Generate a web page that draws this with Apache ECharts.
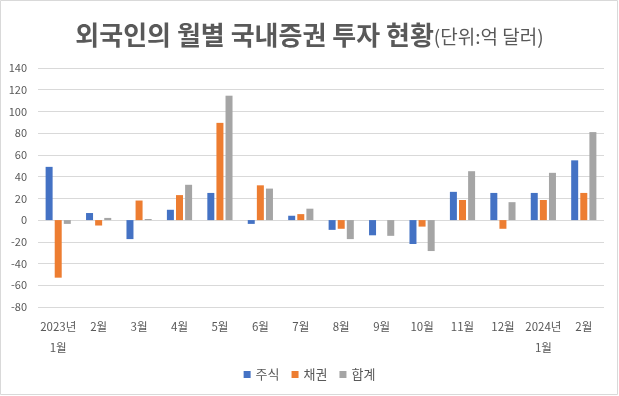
<!DOCTYPE html>
<html><head><meta charset="utf-8">
<script src="https://cdn.jsdelivr.net/npm/echarts@6/dist/echarts.min.js"></script>
<style>html,body{margin:0;padding:0;background:#fff}#c{width:619px;height:396px}</style>
</head><body><div id="c"></div>
<script>
const categories = ['2023년\n1월','2월','3월','4월','5월','6월','7월','8월','9월','10월','11월','12월','2024년\n1월','2월'];
const stocks = [49, 6.5, -17.5, 9.5, 25, -3.5, 4, -9, -14, -22, 26, 25, 25, 55];
const bonds = [-53, -5, 18, 23, 89.5, 32, 5.5, -8, 0, -6, 18.5, -8, 18.5, 25];
const totals = [-3.5, 2, 1, 32.5, 114.5, 29, 10.5, -17.5, -14.5, -28.5, 45, 16.5, 43.5, 81];
const yTicks = {min: -80, max: 140, interval: 20};

const font = '"Noto Sans CJK KR", "Noto Sans", sans-serif';
const chart = echarts.init(document.getElementById('c'), null, {renderer: 'canvas'});
const mk = (name, data, color) => ({
  name, type: 'bar', data, barWidth: 7, barGap: '30%',
  itemStyle: {color}
});
chart.setOption({
  animation: false,
  textStyle: {fontFamily: font},
  graphic: [{type: 'rect', shape: {x: 0.5, y: 0.5, width: 617, height: 394}, style: {fill: 'none', stroke: '#D9D9D9', lineWidth: 1}, silent: true}],
  title: {
    text: '{b|외국인의 월별 국내증권 투자 현황}{n|(단위:억 달러)}',
    left: 'center', top: 17,
    textStyle: {
      rich: {
        b: {fontSize: 26, fontWeight: 'bold', color: '#595959', fontFamily: font},
        n: {fontSize: 19, fontWeight: 'normal', color: '#595959', fontFamily: font, padding: [4, 0, 0, 0]}
      }
    }
  },
  legend: {
    bottom: 10, left: 'center', itemWidth: 7, itemHeight: 7, itemGap: 12,
    icon: 'rect',
    textStyle: {fontSize: 13, color: '#595959', fontFamily: font},
    data: ['주식', '채권', '합계']
  },
  grid: {left: 38, right: 15, top: 68, bottom: 89},
  xAxis: {
    type: 'category', data: categories,
    axisLine: {show: false, onZero: false}, axisTick: {show: false},
    axisLabel: {color: '#595959', fontSize: 11.5, lineHeight: 21, margin: 9, interval: 0, fontFamily: font}
  },
  yAxis: {
    type: 'value', min: yTicks.min, max: yTicks.max, interval: yTicks.interval,
    axisLine: {show: false}, axisTick: {show: false},
    axisLabel: {color: '#595959', fontSize: 11, margin: 11, fontFamily: font},
    splitLine: {lineStyle: {color: '#D9D9D9'}}
  },
  series: [mk('주식', stocks, '#4472C4'), mk('채권', bonds, '#ED7D31'), mk('합계', totals, '#A5A5A5')]
});
</script></body></html>
